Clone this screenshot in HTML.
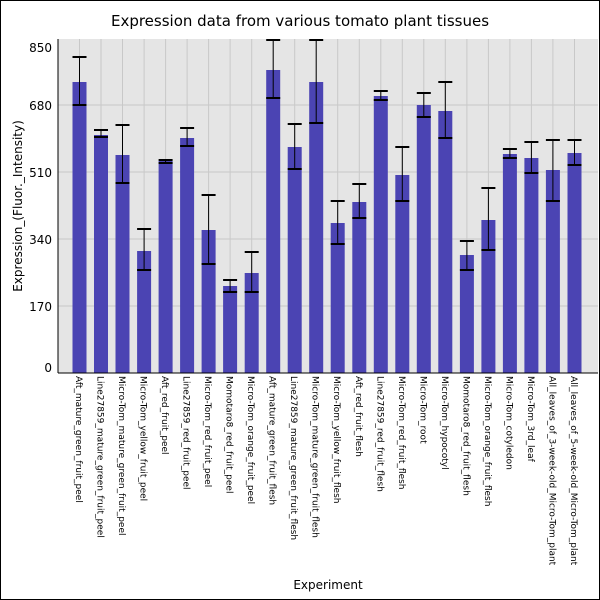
<!DOCTYPE html>
<html><head><style>body{margin:0;background:#fff}svg{display:block}</style></head><body>
<svg width="600" height="600" xmlns="http://www.w3.org/2000/svg" font-family="'DejaVu Sans','Liberation Sans',sans-serif">
<rect x="0.5" y="0.5" width="599" height="599" fill="#fff" stroke="#000"/>
<text x="300" y="26" font-size="15" text-anchor="middle">Expression data from various tomato plant tissues</text>
<rect x="58" y="39" width="540" height="334" fill="#e5e5e5"/>
<g stroke="#c8c8c8" stroke-width="1">
<line x1="58" x2="598" y1="306" y2="306"/><line x1="58" x2="598" y1="239" y2="239"/>
<line x1="58" x2="598" y1="172" y2="172"/><line x1="58" x2="598" y1="105" y2="105"/>
</g>
<defs>
<g id="vl"><line x1="0" x2="0" y1="39" y2="373" stroke="#c8c8c8"/></g>
</defs>
<g>
<use href="#vl" x="79.5"/><use href="#vl" x="101"/><use href="#vl" x="122.5"/><use href="#vl" x="144.1"/><use href="#vl" x="165.6"/><use href="#vl" x="187.1"/><use href="#vl" x="208.6"/><use href="#vl" x="230.1"/><use href="#vl" x="251.7"/><use href="#vl" x="273.2"/><use href="#vl" x="294.7"/><use href="#vl" x="316.2"/><use href="#vl" x="337.7"/><use href="#vl" x="359.3"/><use href="#vl" x="380.8"/><use href="#vl" x="402.3"/><use href="#vl" x="423.8"/><use href="#vl" x="445.3"/><use href="#vl" x="466.9"/><use href="#vl" x="488.4"/><use href="#vl" x="509.9"/><use href="#vl" x="531.4"/><use href="#vl" x="552.9"/><use href="#vl" x="574.5"/>
</g>
<g fill="#4b44b3">
<rect x="72.5" y="82" width="14" height="291"/>
<rect x="94" y="135" width="14" height="238"/>
<rect x="115.5" y="155" width="14" height="218"/>
<rect x="137.1" y="251" width="14" height="122"/>
<rect x="158.6" y="161" width="14" height="212"/>
<rect x="180.1" y="138" width="14" height="235"/>
<rect x="201.6" y="230" width="14" height="143"/>
<rect x="223.1" y="286" width="14" height="87"/>
<rect x="244.7" y="273" width="14" height="100"/>
<rect x="266.2" y="70" width="14" height="303"/>
<rect x="287.7" y="147" width="14" height="226"/>
<rect x="309.2" y="82" width="14" height="291"/>
<rect x="330.7" y="223" width="14" height="150"/>
<rect x="352.3" y="202" width="14" height="171"/>
<rect x="373.8" y="96" width="14" height="277"/>
<rect x="395.3" y="175" width="14" height="198"/>
<rect x="416.8" y="105" width="14" height="268"/>
<rect x="438.3" y="111" width="14" height="262"/>
<rect x="459.9" y="255" width="14" height="118"/>
<rect x="481.4" y="220" width="14" height="153"/>
<rect x="502.9" y="154" width="14" height="219"/>
<rect x="524.4" y="158" width="14" height="215"/>
<rect x="545.9" y="170" width="14" height="203"/>
<rect x="567.5" y="153" width="14" height="220"/>
</g>
<g stroke="#000" fill="none">
<path d="M79.5 57V105M101 130V137M122.5 125V183M144.1 229V270M165.6 160V163M187.1 128V146M208.6 195V264M230.1 280V292M251.7 252V292M273.2 40V98M294.7 124V169M316.2 40V123M337.7 201V244M359.3 184V218M380.8 91V100M402.3 147V201M423.8 93V117M445.3 82V138M466.9 241V270M488.4 188V250M509.9 149V158M531.4 142V173M552.9 140V201M574.5 140V165"/>
</g>
<g stroke="#000" stroke-width="2">
<path d="M72.5 57h14M72.5 105h14M94 130h14M94 137h14M115.5 125h14M115.5 183h14M137.1 229h14M137.1 270h14M158.6 160h14M158.6 163h14M180.1 128h14M180.1 146h14M201.6 195h14M201.6 264h14M223.1 280h14M223.1 292h14M244.7 252h14M244.7 292h14M266.2 40h14M266.2 98h14M287.7 124h14M287.7 169h14M309.2 40h14M309.2 123h14M330.7 201h14M330.7 244h14M352.3 184h14M352.3 218h14M373.8 91h14M373.8 100h14M395.3 147h14M395.3 201h14M416.8 93h14M416.8 117h14M438.3 82h14M438.3 138h14M459.9 241h14M459.9 270h14M481.4 188h14M481.4 250h14M502.9 149h14M502.9 158h14M524.4 142h14M524.4 173h14M545.9 140h14M545.9 201h14M567.5 140h14M567.5 165h14"/>
</g>
<line x1="58" y1="39" x2="58" y2="373" stroke="#000"/>
<line x1="58" y1="373" x2="598" y2="373" stroke="#000"/>
<g font-size="12" text-anchor="end">
<text x="52" y="52">850</text><text x="52" y="110">680</text><text x="52" y="177">510</text>
<text x="52" y="244">340</text><text x="52" y="311">170</text><text x="52" y="372">0</text>
</g>
<text transform="translate(22,206) rotate(-90)" font-size="12" text-anchor="middle">Expression_(Fluor._Intensity)</text>
<text x="328" y="589" font-size="12" text-anchor="middle">Experiment</text>
<g font-size="9">
<text transform="translate(76,376) rotate(90)">Aft_mature_green_fruit_peel</text>
<text transform="translate(97.5,376) rotate(90)">Line27859_mature_green_fruit_peel</text>
<text transform="translate(119,376) rotate(90)">Micro-Tom_mature_green_fruit_peel</text>
<text transform="translate(140.6,376) rotate(90)">Micro-Tom_yellow_fruit_peel</text>
<text transform="translate(162.1,376) rotate(90)">Aft_red_fruit_peel</text>
<text transform="translate(183.6,376) rotate(90)">Line27859_red_fruit_peel</text>
<text transform="translate(205.1,376) rotate(90)">Micro-Tom_red_fruit_peel</text>
<text transform="translate(226.6,376) rotate(90)">Momotaro8_red_fruit_peel</text>
<text transform="translate(248.2,376) rotate(90)">Micro-Tom_orange_fruit_peel</text>
<text transform="translate(269.7,376) rotate(90)">Aft_mature_green_fruit_flesh</text>
<text transform="translate(291.2,376) rotate(90)">Line27859_mature_green_fruit_flesh</text>
<text transform="translate(312.7,376) rotate(90)">Micro-Tom_mature_green_fruit_flesh</text>
<text transform="translate(334.2,376) rotate(90)">Micro-Tom_yellow_fruit_flesh</text>
<text transform="translate(355.8,376) rotate(90)">Aft_red_fruit_flesh</text>
<text transform="translate(377.3,376) rotate(90)">Line27859_red_fruit_flesh</text>
<text transform="translate(398.8,376) rotate(90)">Micro-Tom_red_fruit_flesh</text>
<text transform="translate(420.3,376) rotate(90)">Micro-Tom_root</text>
<text transform="translate(441.8,376) rotate(90)">Micro-Tom_hypocotyl</text>
<text transform="translate(463.4,376) rotate(90)">Momotaro8_red_fruit_flesh</text>
<text transform="translate(484.9,376) rotate(90)">Micro-Tom_orange_fruit_flesh</text>
<text transform="translate(506.4,376) rotate(90)">Micro-Tom_cotyledon</text>
<text transform="translate(527.9,376) rotate(90)">Micro-Tom_3rd_leaf</text>
<text transform="translate(549.4,376) rotate(90)">All_leaves_of_3-week-old_Micro-Tom_plant</text>
<text transform="translate(571,376) rotate(90)">All_leaves_of_5-week-old_Micro-Tom_plant</text>
</g>
</svg>
</body></html>
